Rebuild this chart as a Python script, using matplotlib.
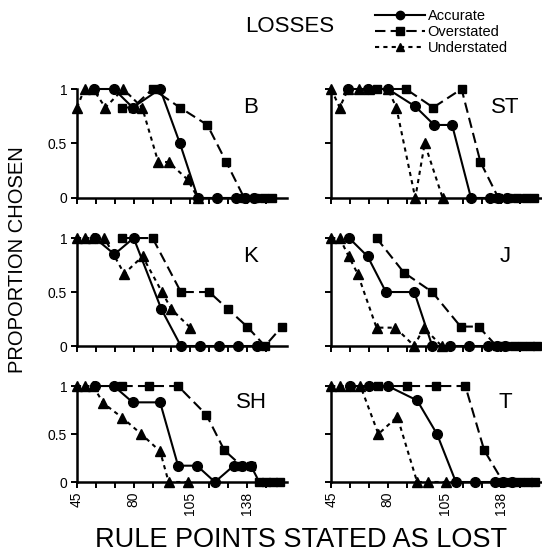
import matplotlib
matplotlib.use("Agg")
import matplotlib.pyplot as plt
from matplotlib.lines import Line2D

plt.rcParams["font.family"] = ["Liberation Sans", "DejaVu Sans"]

# x values are positions on the ordinal rule-point scale (one unit per tick)
panels = ["B", "ST", "K", "J", "SH", "T"]
tick_pos = [0, 3, 6, 9]
tick_labels = ["45", "80", "105", "138"]

acc_x = {
    "B": [0.9, 1.95, 2.95, 4.4, 5.45, 6.4, 7.4, 8.4, 8.9, 9.35],
    "ST": [0.9, 1.95, 3.0, 4.45, 5.45, 6.4, 7.4, 8.4, 8.85, 9.3],
    "K": [0.95, 1.98, 3.0, 4.47, 5.5, 6.5, 7.5, 8.5, 9.55],
    "J": [0.95, 1.93, 2.9, 4.4, 5.35, 6.3, 7.3, 8.3, 8.8, 9.2],
    "SH": [0.95, 1.95, 2.95, 4.4, 5.35, 6.35, 7.3, 8.3, 8.75, 9.2],
    "T": [1.0, 2.0, 3.0, 4.55, 5.6, 6.6, 7.6, 8.65, 9.1, 9.55],
}
acc_y = {
    "B": [1, 1, 0.83, 1, 0.5, 0, 0, 0, 0, 0],
    "ST": [1, 1, 1, 0.84, 0.67, 0.67, 0, 0, 0, 0],
    "K": [1, 0.85, 1, 0.34, 0, 0, 0, 0, 0],
    "J": [1, 0.83, 0.5, 0.5, 0, 0, 0, 0, 0, 0],
    "SH": [1, 1, 0.83, 0.83, 0.17, 0.17, 0, 0.17, 0.17, 0.17],
    "T": [1, 1, 1, 0.85, 0.5, 0, 0, 0, 0, 0],
}
over_x = {
    "B": [2.4, 2.95, 4.0, 5.45, 6.9, 7.9, 8.85, 9.4, 9.9, 10.3],
    "ST": [2.45, 3.95, 5.4, 6.9, 7.9, 8.85, 9.35, 9.85, 10.3, 10.75],
    "K": [2.4, 4.0, 5.5, 7.0, 8.0, 9.0, 9.95, 10.85],
    "J": [2.4, 3.85, 5.35, 6.85, 7.8, 8.75, 9.2, 9.65, 10.1, 10.5, 10.9],
    "SH": [2.4, 3.8, 5.35, 6.85, 7.8, 8.7, 9.2, 9.65, 10.0, 10.4, 10.75],
    "T": [2.5, 4.0, 5.55, 7.1, 8.1, 9.1, 9.55, 10.0, 10.4, 10.8],
}
over_y = {
    "B": [0.83, 0.83, 1, 0.83, 0.67, 0.33, 0, 0, 0, 0],
    "ST": [1, 1, 0.83, 1, 0.33, 0, 0, 0, 0, 0],
    "K": [1, 1, 0.5, 0.5, 0.34, 0.18, 0, 0.18],
    "J": [1, 0.68, 0.5, 0.18, 0.18, 0, 0, 0, 0, 0, 0],
    "SH": [1, 1, 1, 0.7, 0.33, 0.17, 0.17, 0, 0, 0, 0],
    "T": [1, 1, 1, 1, 0.33, 0, 0, 0, 0, 0],
}
under_x = {
    "B": [0, 0.4, 0.85, 1.5, 2.45, 3.45, 4.3, 4.85, 5.85, 6.4],
    "ST": [0, 0.45, 0.9, 1.45, 2.0, 3.0, 3.45, 4.45, 4.95, 5.9],
    "K": [0, 0.4, 0.85, 1.45, 2.5, 3.47, 4.5, 5.0, 6.0],
    "J": [0, 0.45, 0.93, 1.4, 2.4, 3.4, 4.4, 4.9, 5.85],
    "SH": [0, 0.43, 0.85, 1.4, 2.4, 3.4, 4.4, 4.85, 5.85],
    "T": [0, 0.45, 1.0, 1.55, 2.5, 3.5, 4.55, 5.1, 6.1],
}
under_y = {
    "B": [0.83, 1, 1, 0.83, 1, 0.83, 0.33, 0.33, 0.17, 0],
    "ST": [1, 0.83, 1, 1, 1, 1, 0.83, 0, 0.5, 0],
    "K": [1, 1, 1, 1, 0.67, 0.83, 0.5, 0.34, 0.17],
    "J": [1, 1, 0.83, 0.67, 0.17, 0.17, 0, 0.17, 0],
    "SH": [1, 1, 1, 0.82, 0.67, 0.5, 0.32, 0, 0],
    "T": [1, 1, 1, 1, 0.5, 0.68, 0, 0, 0],
}

styles = {
    "Accurate": dict(ls="-", marker="o", ms=7, dashes=None),
    "Overstated": dict(ls="--", marker="s", ms=6.2, dashes=(5, 2.5)),
    "Understated": dict(ls="--", marker="^", ms=7, dashes=(2, 2)),
}

fig = plt.figure(figsize=(5.42, 5.58), dpi=100)
lefts = [0.142, 0.611]
rows = [(0.6452, 0.1953), (0.3799, 0.1935), (0.1362, 0.172)]

for i, name in enumerate(panels):
    r, c = divmod(i, 2)
    bottom, height = rows[r]
    ax = fig.add_axes([lefts[c], bottom, 0.387, height])
    for lab, xs, ys in [("Overstated", over_x[name], over_y[name]),
                        ("Understated", under_x[name], under_y[name]),
                        ("Accurate", acc_x[name], acc_y[name])]:
        st = styles[lab]
        line, = ax.plot(xs, ys, color="black", lw=1.5, marker=st["marker"], ms=st["ms"],
                        mfc="black", mec="black", clip_on=False, ls=st["ls"])
        if st["dashes"]:
            line.set_dashes(st["dashes"])
    ax.set_xlim(0, 11.1)
    ax.set_ylim(0, 1)
    ax.set_xticks(range(0, 11))
    ax.set_yticks([0, 0.5, 1])
    for s in ["top", "right"]:
        ax.spines[s].set_visible(False)
    for s in ["left", "bottom"]:
        ax.spines[s].set_linewidth(1.8)
    ax.tick_params(direction="out", length=4, width=1.4, labelsize=10, pad=3)
    if c == 0:
        ax.set_yticklabels(["0", "0.5", "1"])
    else:
        ax.set_yticklabels([])
    if r == 2:
        ax.set_xticklabels([tick_labels[tick_pos.index(t)] if t in tick_pos else "" for t in range(0, 11)],
                           rotation=90, fontsize=10)
    else:
        ax.set_xticklabels([])
    ax.text(0.83, 0.83, name, transform=ax.transAxes, ha="center", va="center", fontsize=16)

fig.text(0.535, 0.953, "LOSSES", ha="center", va="center", fontsize=16)
fig.text(0.032, 0.535, "PROPORTION CHOSEN", rotation=90, ha="center", va="center", fontsize=14.5)
fig.text(0.555, 0.032, "RULE POINTS STATED AS LOST", ha="center", va="center", fontsize=19.5)

handles = []
for lab in ["Accurate", "Overstated", "Understated"]:
    st = styles[lab]
    h = Line2D([], [], color="black", lw=1.5, marker=st["marker"], ms=st["ms"] - 1, ls=st["ls"])
    if st["dashes"]:
        h.set_dashes(st["dashes"])
    handles.append(h)
fig.legend(handles, ["Accurate", "Overstated", "Understated"], loc="upper left",
           bbox_to_anchor=(0.692, 0.983), frameon=False, fontsize=10.5, handlelength=3.4,
           handletextpad=0.2, labelspacing=0.12, borderpad=0, borderaxespad=0, numpoints=1)

fig.savefig("out.png", dpi=100, facecolor="white")
